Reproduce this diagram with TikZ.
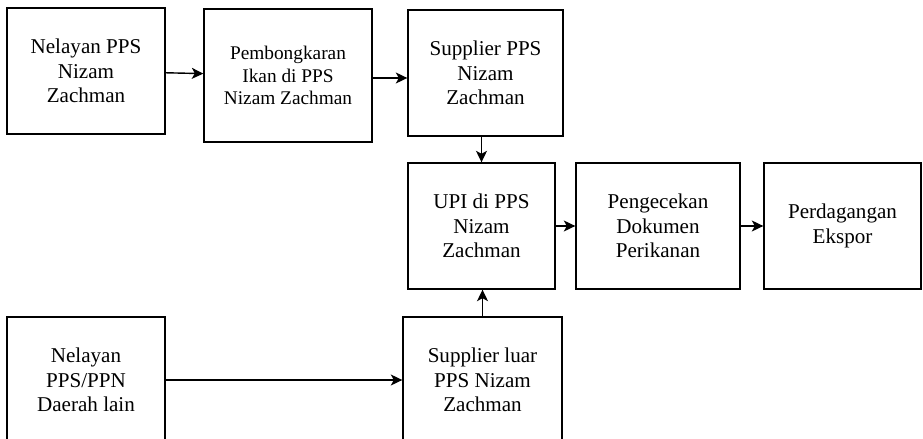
\documentclass[tikz,border=0pt]{standalone}
\usepackage{fontspec}
\setmainfont{Liberation Serif}
\usepackage{tikz}
\usetikzlibrary{positioning,arrows.meta}

\tikzset{
    blok/.style={draw,line width=0.8pt,align=center,inner sep=0pt,
        font=\fontsize{12}{14}\selectfont},
    panah/.style={line width=0.8pt,-{Stealth[length=2.3mm,width=2.2mm,inset=0.6mm]}}
}

\begin{document}
\begin{tikzpicture}[x=0.02cm,y=-0.02cm]
    \clip (0,0) rectangle (923,439);
    \node [blok,minimum width=3.16cm,minimum height=2.52cm] (A) at (86,71) {Nelayan PPS\\Nizam\\Zachman};
    \node [blok,minimum width=3.36cm,minimum height=2.66cm,font=\fontsize{11}{12.8}\selectfont] (B) at (288,75.5) {Pembongkaran\\Ikan di PPS\\Nizam Zachman};
    \node [blok,minimum width=3.1cm,minimum height=2.52cm] (C) at (485.5,73) {Supplier PPS\\Nizam\\Zachman};
    \node [blok,minimum width=2.94cm,minimum height=2.52cm] (D) at (481.5,226) {UPI di PPS\\Nizam\\Zachman};
    \node [blok,minimum width=3.28cm,minimum height=2.52cm] (E) at (658,226) {Pengecekan\\Dokumen\\Perikanan};
    \node [blok,minimum width=3.14cm,minimum height=2.52cm] (F) at (842.5,226) {Perdagangan\\Ekspor};
    \node [blok,minimum width=3.16cm,minimum height=2.52cm] (G) at (86,380) {Nelayan\\PPS/PPN\\Daerah lain};
    \node [blok,minimum width=3.18cm,minimum height=2.52cm] (H) at (482.5,380) {Supplier luar\\PPS Nizam\\Zachman};
    \draw [panah] (A) -- (B);
    \draw [panah] ([yshift=-0.05cm]B.east) -- ([yshift=-0.05cm]B.east -| C.west);
    \draw [panah] (C.south -| D.north) -- (D.north);
    \draw [panah] (D) -- (E);
    \draw [panah] (E) -- (F);
    \draw [panah] (G) -- (H);
    \draw [panah] (H.north) -- (H.north |- D.south);
\end{tikzpicture}
\end{document}
